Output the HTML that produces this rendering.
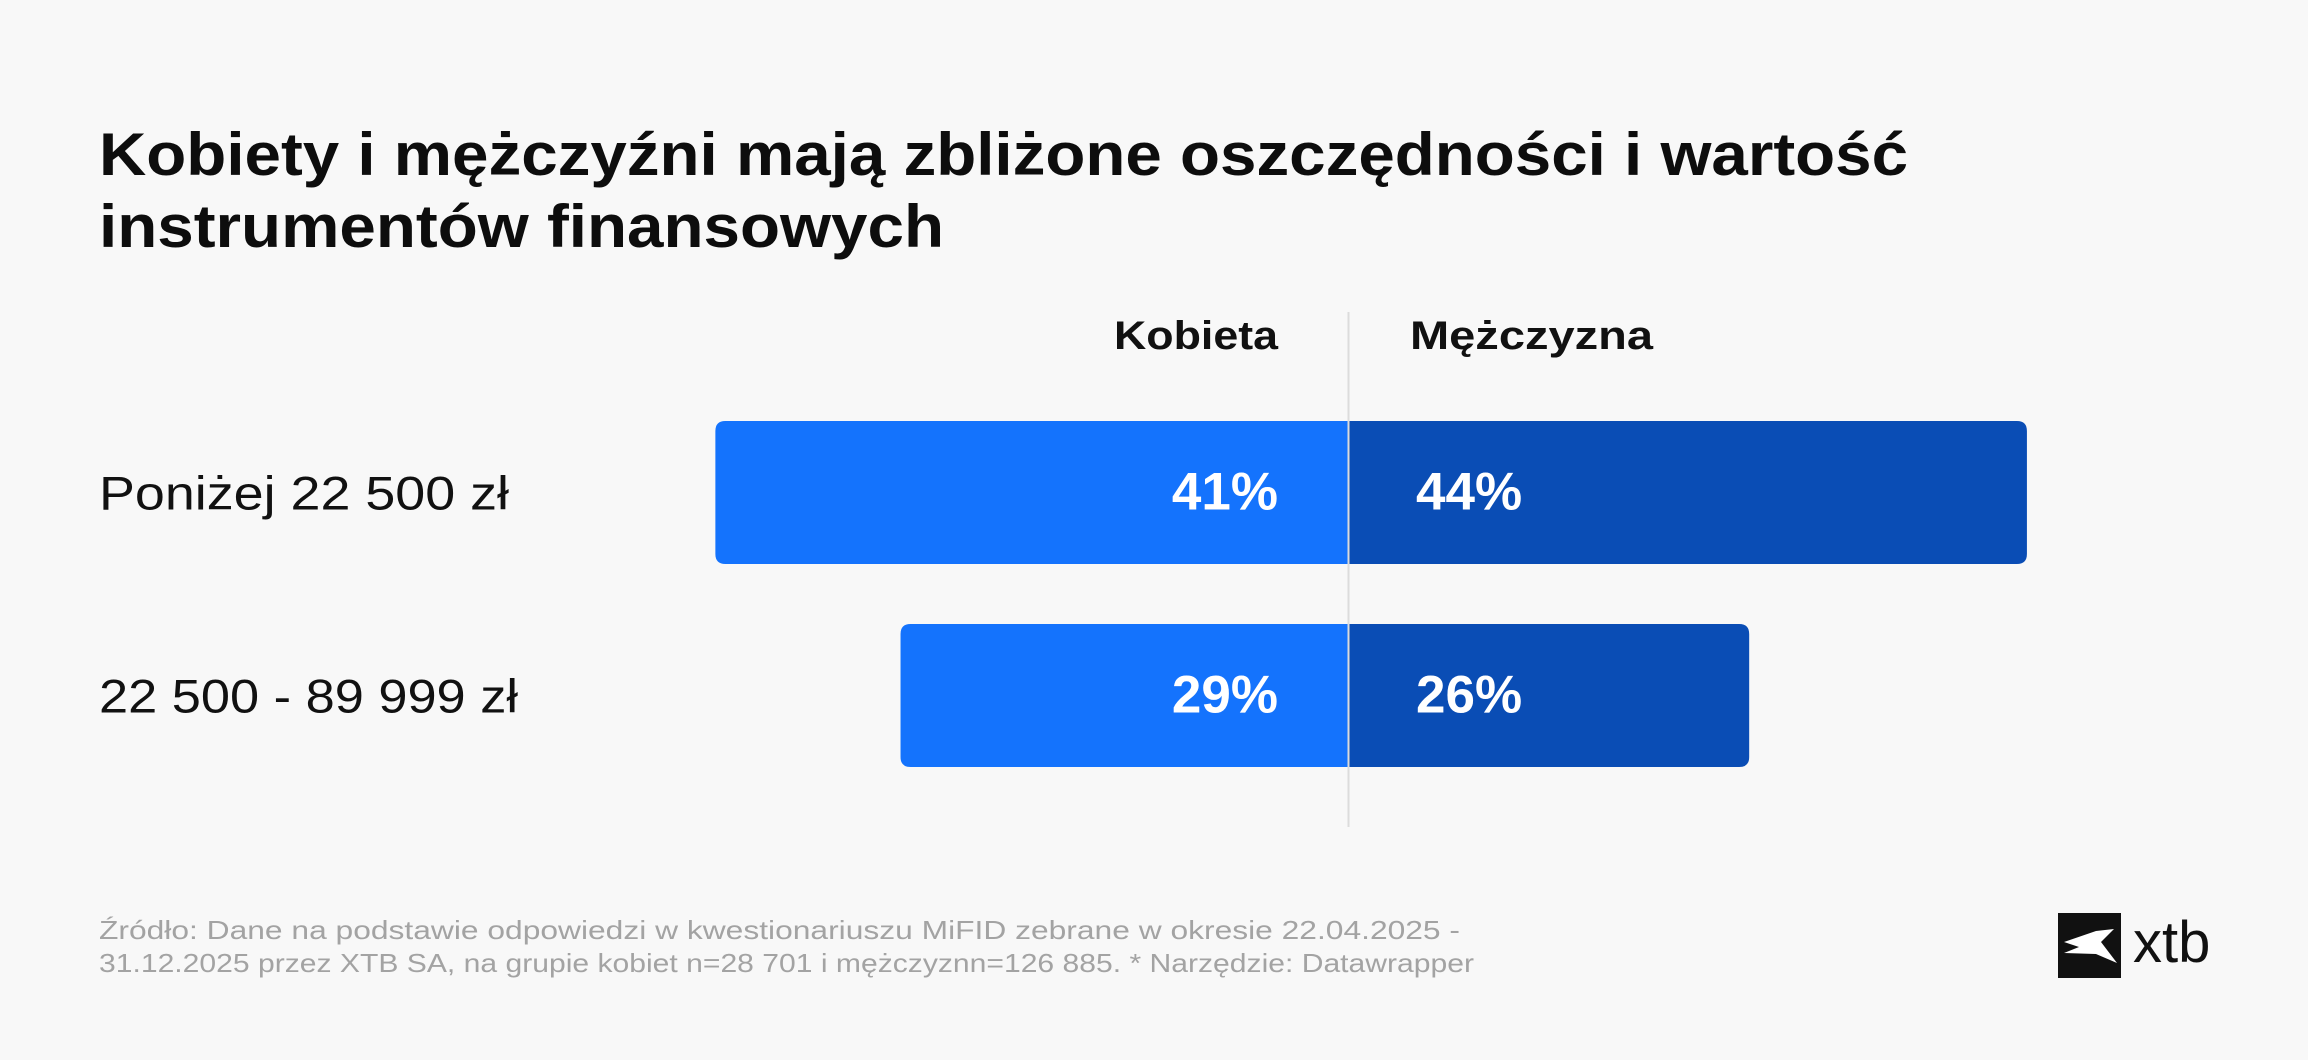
<!DOCTYPE html>
<html><head><meta charset="utf-8"><style>
html,body{margin:0;padding:0;background:#f8f8f8;}
svg{display:block;font-family:"Liberation Sans",sans-serif;}
</style></head><body>
<svg id="chart" width="2308" height="1060" viewBox="0 0 2308 1060">
<rect width="2308" height="1060" fill="#f8f8f8"/>
<text x="99" y="175" font-size="60" font-weight="bold" fill="#0d0d0d" textLength="1809" lengthAdjust="spacingAndGlyphs">Kobiety i mężczyźni mają zbliżone oszczędności i wartość</text>
<text x="99" y="247" font-size="60" font-weight="bold" fill="#0d0d0d" textLength="845" lengthAdjust="spacingAndGlyphs">instrumentów finansowych</text>
<text x="1114" y="349" font-size="40" font-weight="bold" fill="#111" textLength="164" lengthAdjust="spacingAndGlyphs">Kobieta</text>
<text x="1410" y="349" font-size="40" font-weight="bold" fill="#111" textLength="243" lengthAdjust="spacingAndGlyphs">Mężczyzna</text>
<g id="bars"></g>
<line x1="1348.5" y1="312" x2="1348.5" y2="827" stroke="#dcdcdc" stroke-width="2"/>
<text x="99" y="939" font-size="26" fill="#a3a3a3" textLength="1361" lengthAdjust="spacingAndGlyphs">Źródło: Dane na podstawie odpowiedzi w kwestionariuszu MiFID zebrane w okresie 22.04.2025 -</text>
<text x="99" y="972" font-size="26" fill="#a3a3a3" textLength="1375" lengthAdjust="spacingAndGlyphs">31.12.2025 przez XTB SA, na grupie kobiet n=28 701 i mężczyznn=126 885. * Narzędzie: Datawrapper</text>
<g>
<rect x="2058" y="913" width="63" height="65" fill="#111"/>
<path d="M2064 942 L2096 931 L2114 929 L2101 942 L2117 963 L2096 954 L2064 953 L2079 947 Z" fill="#fff"/>
<text x="2133" y="962" font-size="58" fill="#111">xtb</text>
</g>
</svg>
<script>
const categories = ["Poniżej 22 500 zł", "22 500 - 89 999 zł"];
const women = [41, 29];
const men = [44, 26];
const center = 1348, pxPerPct = 15.43;
const rowTop = [421, 624], barH = 143;
const labelW = [410, 419];
function xs(v){ return v * pxPerPct; }
const g = document.getElementById('bars');
const NS = 'http://www.w3.org/2000/svg';
function mk(tag, attrs){ const e = document.createElementNS(NS, tag); for (const k in attrs) e.setAttribute(k, attrs[k]); return e; }
categories.forEach((c, i) => {
  const y = rowTop[i], cy = y + barH/2 + 17;
  const lab = mk('text', {x:99, y:cy, 'font-size':47, fill:'#111', textLength:labelW[i], lengthAdjust:'spacingAndGlyphs'});
  lab.textContent = c;
  
  
  g.appendChild(lab);
  const wl = xs(women[i]), wr = xs(men[i]), r = 10;
  const pl = mk('path', {d:`M${center} ${y} H${center-wl+r} Q${center-wl} ${y} ${center-wl} ${y+r} V${y+barH-r} Q${center-wl} ${y+barH} ${center-wl+r} ${y+barH} H${center} Z`, fill:'#1473fd'});
  
  
  g.appendChild(pl);
  const pr = mk('path', {d:`M${center} ${y} H${center+wr-r} Q${center+wr} ${y} ${center+wr} ${y+r} V${y+barH-r} Q${center+wr} ${y+barH} ${center+wr-r} ${y+barH} H${center} Z`, fill:'#0a4db5'});
  
  
  g.appendChild(pr);
  const tl = mk('text', {x:center-70, y:cy, 'font-size':53, 'font-weight':'bold', fill:'#fff', 'text-anchor':'end'});
  tl.textContent = women[i] + '%';
  
  
  g.appendChild(tl);
  const tr = mk('text', {x:center+68, y:cy, 'font-size':53, 'font-weight':'bold', fill:'#fff'});
  tr.textContent = men[i] + '%';
  
  
  g.appendChild(tr);
});
</script>
</body></html>
